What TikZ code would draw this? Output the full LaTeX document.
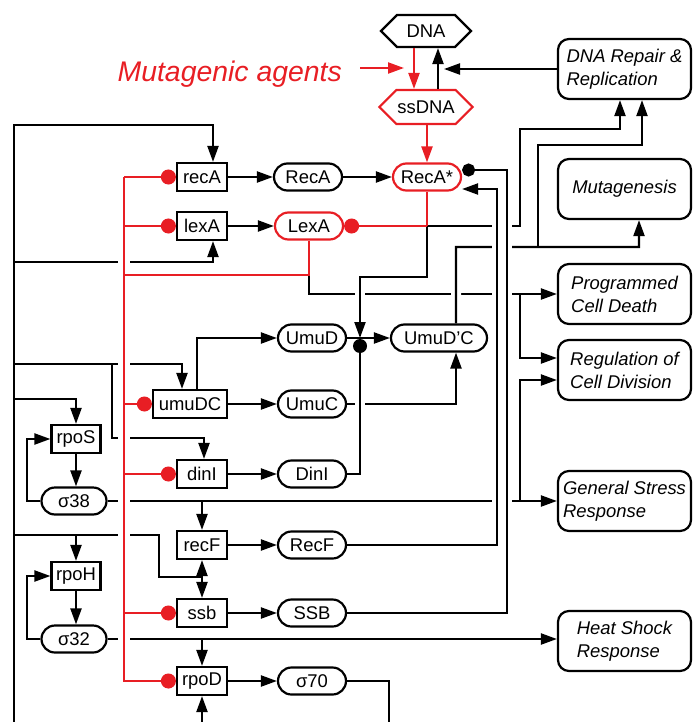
\documentclass[tikz,border=0pt]{standalone}
\usepackage{fontspec}
\setmainfont{Liberation Sans}
\usetikzlibrary{arrows.meta,shapes.misc,shapes.symbols}
\definecolor{sosred}{RGB}{232,30,36}
\tikzset{
  wire/.style={line width=2.2bp},
  arr/.style={wire,-{Triangle[length=16bp,width=11bp]}},
  redwire/.style={wire,draw=sosred},
  redarr/.style={redwire,-{Triangle[length=16bp,width=11bp]}},
  repress/.style={redwire,-{Circle[length=15bp]}},
  bind/.style={wire,-{Circle[length=13bp]}},
  jump/.style={draw=white,line width=10bp},
  txt/.style={font=\fontsize{18.5}{20}\selectfont},
  gene/.style={draw,txt,line width=2.2bp,minimum width=50bp,minimum height=28bp,inner sep=1bp},
  prot/.style={draw,txt,rounded rectangle,line width=2.2bp,minimum width=70bp,minimum height=27bp,inner sep=1bp},
  hexa/.style={draw,txt,signal,signal to=east and west,line width=2.2bp,minimum width=90bp,minimum height=32bp,inner sep=1bp},
  effect/.style={draw,rounded corners=11bp,line width=2.2bp,minimum width=133bp,minimum height=60bp,align=left,font=\fontsize{18.5}{23}\selectfont\itshape}
}
\begin{document}
\begin{tikzpicture}[x=1bp,y=-1bp]
\useasboundingbox (0,0) rectangle (693,722);
\node[hexa] (DNA) at (426,31) {DNA};
\node[hexa,draw=sosred,minimum height=34bp] (ssDNA) at (426,107) {ssDNA};
\node[anchor=east,inner sep=0pt,text=sosred,font=\fontsize{28.5}{30}\selectfont\itshape] (agents) at (342,74) {Mutagenic agents};
\node[effect] (repair) at (624.5,69) {DNA Repair \&\\Replication};
\node[effect] (mutagenesis) at (624.5,189) {Mutagenesis};
\node[effect] (death) at (624.5,294) {Programmed\\Cell Death};
\node[effect] (division) at (624.5,370) {Regulation of\\Cell Division};
\node[effect] (stress) at (624.5,501) {General Stress\\Response};
\node[effect] (heat) at (624.5,641) {Heat Shock\\Response};
\node[gene] (recA) at (202,177) {recA};
\node[gene] (lexA) at (202,226) {lexA};
\node[gene,minimum width=74bp] (umuDC) at (190,404) {umuDC};
\node[gene] (dinI) at (202,474) {dinI};
\node[gene] (recF) at (202,545) {recF};
\node[gene] (ssb) at (202,613) {ssb};
\node[gene] (rpoD) at (202,681) {rpoD};
\node[gene,minimum width=49bp] (rpoS) at (76,439) {rpoS};
\node[gene,minimum width=49bp] (rpoH) at (76,576) {rpoH};
\node[prot] (RecA) at (308,177) {RecA};
\node[prot,draw=sosred] (LexA) at (309,226) {LexA};
\node[prot,draw=sosred] (RecAs) at (427,177) {RecA*};
\node[prot] (UmuD) at (312,338) {UmuD};
\node[prot,minimum width=98bp] (UmuDpC) at (439,338) {UmuD'C};
\node[prot] (UmuC) at (312,404) {UmuC};
\node[prot] (DinI) at (312,474) {DinI};
\node[prot] (RecF) at (312,545) {RecF};
\node[prot] (SSB) at (312,613) {SSB};
\node[prot] (s70) at (312,681) {σ70};
\node[prot,minimum width=67bp] (s38) at (74,501) {σ38};
\node[prot,minimum width=67bp] (s32) at (74,639) {σ32};
\node[circle,fill,inner sep=0pt,minimum size=14bp] (jn) at (360,346) {};
\coordinate (bustop) at (124,177);
\coordinate (busbot) at (124,682);
\coordinate (lb) at (14,722);
\coordinate (lbtop) at (14,125);
\coordinate (t1) at (14,262);
\coordinate (t2) at (14,364);
\coordinate (t2b) at (112,364);
\coordinate (t2c) at (112,438);
\coordinate (t3) at (14,399);
\coordinate (t4) at (14,535);
\coordinate (t4b) at (159,577);
\coordinate (loopx) at (27,0);
\coordinate (sb) at (389,722);
\coordinate (ag) at (404,68);
\coordinate (agout) at ([xshift=18bp]agents.east);
\coordinate (rs1) at (427,226);
\coordinate (rs2) at (360,277);
\coordinate (lx1) at (309,275);
\coordinate (um1) at (456,247);
\coordinate (um2) at (538,145);
\coordinate (lr) at (520,129);
\coordinate (xr) at (520,0);
\coordinate (rfx) at (497,0);
\coordinate (sbx) at (507,0);
\coordinate (rfin) at ([yshift=-12bp]RecAs.east);
\coordinate (sbin) at ([yshift=7bp]RecAs.east);
\draw[arr] (lb) -- (lbtop) -| ([xshift=11bp]recA.north);
\draw[arr] (t1) -| ([xshift=11bp]lexA.south);
\draw[arr] (t2) -| ([xshift=-8bp]umuDC.north);
\draw[arr] (t2b) -- (t2c) -| ([xshift=2bp]dinI.north);
\draw[arr] (t3) -| (rpoS.north);
\draw[wire] (t4) -| (t4b) -- (recF.south |- t4b);
\draw[arr] (recF.south |- t4b) -- (recF.south);
\draw[arr] (recF.south |- t4b) -- (ssb.north);
\draw[arr] (rpoH.north |- t4) -- (rpoH.north);
\draw[arr] (rpoS.south) -- (rpoS.south |- s38.north);
\draw[arr] (s38.west) -- (loopx |- s38.west) |- (rpoS.west);
\draw[arr] (rpoH.south) -- (rpoH.south |- s32.north);
\draw[arr] (s32.west) -- (loopx |- s32.west) |- (rpoH.west);
\draw[arr] (s38.east) -- (stress.west);
\draw[arr] (recF.north |- s38.east) -- (recF.north);
\draw[arr] (xr |- stress.west) |- ([yshift=-10bp]division.west);
\draw[arr] (s32.east) -- (s32.east -| heat.west);
\draw[arr] (rpoD.north |- s32.east) -- (rpoD.north);
\draw[arr] (rpoD.south |- lb) -- (rpoD.south);
\draw[wire] (s70.east) -| (sb);
\draw[arr] (recA.east) -- (RecA.west);
\draw[arr] (lexA.east) -- (LexA.west);
\draw[arr] (umuDC.east) -- (UmuC.west);
\draw[arr] (dinI.east) -- (DinI.west);
\draw[arr] (recF.east) -- (RecF.west);
\draw[arr] (ssb.east) -- (SSB.west);
\draw[arr] (rpoD.east) -- (s70.west);
\draw[arr] (RecA.east) -- (RecAs.west);
\draw[arr] ([xshift=7bp]umuDC.north) |- (UmuD.west);
\draw[arr] (UmuD.east) -- (UmuDpC.west);
\draw[arr] (lx1) |- (death.west);
\draw[arr] (xr |- death.west) |- ([yshift=12bp]division.west);
\draw[arr] (UmuC.east) -| ([xshift=17bp]UmuDpC.south);
\draw[jump,shorten <=5bp,shorten >=16bp] (rs2) -- (jn |- UmuD.east);
\draw[arr] (rs1) |- (rs2) -- (jn |- UmuD.east);
\draw[jump,shorten <=5bp,shorten >=5bp] ([xshift=17bp]UmuDpC.north) -- (um1);
\draw[arr] ([xshift=17bp]UmuDpC.north) -- (um1) -| ([xshift=14.5bp]mutagenesis.south);
\draw[arr] (um2 |- um1) -- (um2) -| ([xshift=17.5bp]repair.south);
\draw[jump,shorten <=3bp,shorten >=2bp] (DinI.east) -| (jn.south);
\draw[wire] (DinI.east) -| (jn.south);
\draw[arr] (rs1) -- (rs1 -| lr) -- (lr) -| ([xshift=-4.5bp]repair.south);
\draw[jump,shorten <=5bp,shorten >=5bp] (RecF.east -| rfx) -- (rfx |- rfin);
\draw[arr] (RecF.east) -| (rfx |- rfin) -- (rfin);
\draw[jump,shorten <=5bp,shorten >=5bp] (SSB.east -| sbx) -- (sbx |- sbin);
\draw[bind] (SSB.east) -| (sbx |- sbin) -- (sbin);
\draw[arr] (repair.west) -- ([xshift=18bp]DNA.south |- repair.west);
\draw[arr] ([xshift=12bp]ssDNA.north) -- ([xshift=12bp]DNA.south);
\draw[redarr] ([xshift=-12bp]DNA.south) -- ([xshift=-12bp]ssDNA.north);
\draw[redarr] (agout |- ag) -- (ag);
\draw[redarr] (ssDNA.south -| RecAs.north) -- (RecAs.north);
\draw[redwire] (RecAs.south) -- (rs1);
\draw[repress] (rs1) -- (LexA.east);
\draw[jump,line width=12bp] (bustop) -- (busbot);
\draw[redwire] (bustop) -- (busbot);
\draw[redwire] (LexA.south) -- (lx1) -- (lx1 -| bustop);
\draw[repress] (recA.west -| bustop) -- (recA.west);
\draw[repress] (lexA.west -| bustop) -- (lexA.west);
\draw[repress] (umuDC.west -| bustop) -- (umuDC.west);
\draw[repress] (dinI.west -| bustop) -- (dinI.west);
\draw[repress] (ssb.west -| bustop) -- (ssb.west);
\draw[repress] (rpoD.west -| bustop) -- (rpoD.west);
\end{tikzpicture}
\end{document}
